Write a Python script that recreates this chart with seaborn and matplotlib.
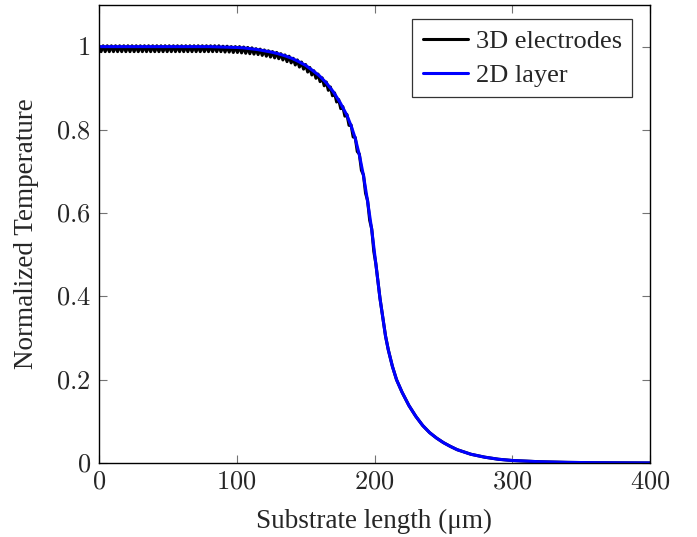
import numpy as np
import pandas as pd
import matplotlib
matplotlib.use("Agg")
import matplotlib.pyplot as plt
import seaborn as sns

# ---- data ----
x_2d = [0, 20, 40, 60, 80, 90, 100, 105, 110, 115, 120, 125, 130, 135, 140,
        145, 150, 155, 160, 165, 170, 175, 180, 183, 186, 189, 192, 195, 198,
        200, 202, 204, 206, 208, 210, 213, 216, 220, 225, 230, 235, 240, 245,
        250, 255, 260, 270, 280, 290, 300, 320, 340, 360, 380, 400]
y_2d = [1.000, 1.000, 1.000, 1.000, 1.000, 0.999, 0.998, 0.997, 0.995, 0.993,
        0.990, 0.987, 0.983, 0.978, 0.972, 0.964, 0.955, 0.943, 0.930, 0.913,
        0.892, 0.866, 0.835, 0.810, 0.780, 0.740, 0.690, 0.628, 0.560, 0.505,
        0.450, 0.395, 0.350, 0.305, 0.272, 0.232, 0.200, 0.170, 0.138, 0.112,
        0.090, 0.073, 0.060, 0.049, 0.040, 0.032, 0.021, 0.014, 0.009, 0.006,
        0.003, 0.0015, 0.0007, 0.0003, 0.0001]

x_3d = [0, 1.5, 3, 4.5, 6, 7.5, 9, 10.5, 12, 13.5, 15, 16.5, 18, 19.5, 21, 22.5,
        24, 25.5, 27, 28.5, 30, 31.5, 33, 34.5, 36, 37.5, 39, 40.5, 42, 43.5,
        45, 46.5, 48, 49.5, 51, 52.5, 54, 55.5, 57, 58.5, 60, 61.5, 63, 64.5,
        66, 67.5, 69, 70.5, 72, 73.5, 75, 76.5, 78, 79.5, 81, 82.5, 84, 85.5,
        87, 88.5, 90, 91.5, 93, 94.5, 96, 97.5, 99, 100.5, 102, 103.5, 105,
        106.5, 108, 109.5, 111, 112.5, 114, 115.5, 117, 118.5, 120, 121.5, 123,
        124.5, 126, 127.5, 129, 130.5, 132, 133.5, 135, 136.5, 138, 139.5, 141,
        142.5, 144, 145.5, 147, 148.5, 150, 151.5, 153, 154.5, 156, 157.5, 159,
        160.5, 162, 163.5, 165, 166.5, 168, 169.5, 171, 172.5, 174, 175.5, 177,
        178.5, 180, 181.5, 183, 184.5, 186, 187.5, 189, 190.5, 192, 193.5, 195,
        196.5, 198, 199.5, 201, 202, 204, 206, 208, 210, 213, 216, 220, 225,
        230, 235, 240, 245, 250, 255, 260, 270, 280, 290, 300, 320, 340, 360,
        380, 400]
y_3d = [1.002, 0.988, 1.002, 0.988, 1.002, 0.988, 1.002, 0.988, 1.002, 0.988,
        1.002, 0.988, 1.002, 0.988, 1.002, 0.988, 1.002, 0.988, 1.002, 0.988,
        1.002, 0.988, 1.002, 0.988, 1.002, 0.988, 1.002, 0.988, 1.002, 0.988,
        1.002, 0.988, 1.002, 0.988, 1.002, 0.988, 1.002, 0.988, 1.002, 0.988,
        1.002, 0.988, 1.002, 0.988, 1.002, 0.988, 1.002, 0.988, 1.002, 0.988,
        1.002, 0.988, 1.002, 0.988, 1.002, 0.988, 1.002, 0.988, 1.002, 0.988,
        1.001, 0.987, 1.001, 0.987, 1.000, 0.986, 1.000, 0.986, 1.000, 0.985,
        0.999, 0.984, 0.998, 0.983, 0.997, 0.982, 0.995, 0.981, 0.994, 0.979,
        0.992, 0.977, 0.990, 0.975, 0.988, 0.973, 0.986, 0.971, 0.983, 0.968,
        0.980, 0.964, 0.977, 0.961, 0.972, 0.956, 0.968, 0.951, 0.963, 0.946,
        0.957, 0.939, 0.950, 0.932, 0.942, 0.924, 0.934, 0.916, 0.925, 0.906,
        0.915, 0.895, 0.903, 0.882, 0.889, 0.867, 0.873, 0.851, 0.856, 0.833,
        0.837, 0.811, 0.812, 0.783, 0.782, 0.748, 0.742, 0.703, 0.692, 0.648,
        0.630, 0.583, 0.562, 0.508, 0.478, 0.450, 0.395, 0.350, 0.305, 0.272,
        0.232, 0.200, 0.170, 0.138, 0.112, 0.090, 0.073, 0.060, 0.049, 0.040,
        0.032, 0.021, 0.014, 0.009, 0.006, 0.003, 0.0015, 0.0007, 0.0003, 0.0001]

series_names = ["3D electrodes", "2D layer"]
series_colors = ["black", "#0000ff"]
x_ticks = [0, 100, 200, 300, 400]
y_ticks = [0, 0.2, 0.4, 0.6, 0.8, 1.0]
y_tick_labels = ["0", "0.2", "0.4", "0.6", "0.8", "1"]

df = pd.concat([
    pd.DataFrame({"x": x_3d, "y": y_3d, "series": series_names[0]}),
    pd.DataFrame({"x": x_2d, "y": y_2d, "series": series_names[1]}),
], ignore_index=True)

# ---- style ----
sns.set_theme(style="ticks")
plt.rcParams["font.family"] = ["Liberation Serif", "DejaVu Serif"]
plt.rcParams["mathtext.fontset"] = "cm"

fig = plt.figure(figsize=(6.97, 5.37), dpi=100)
ax = fig.add_axes([99 / 697, 74 / 537, 551 / 697, 458 / 537])

sns.lineplot(data=df, x="x", y="y", hue="series", hue_order=series_names,
             palette=dict(zip(series_names, series_colors)), estimator=None,
             sort=False, linewidth=2.2, ax=ax)

ax.set_xlim(0, 400)
ax.set_ylim(0, 1.1)
ax.set_xticks(x_ticks)
ax.set_xticklabels([f"${t}$" for t in x_ticks])
ax.set_yticks(y_ticks)
ax.set_yticklabels([f"${t}$" for t in y_tick_labels])
for lab in ax.get_xticklabels() + ax.get_yticklabels():
    lab.set_math_fontfamily("cm")
ax.tick_params(direction="in", length=6, width=0.8, color="0.45",
               top=True, right=True, labelsize=19, pad=6)
for s in ax.spines.values():
    s.set_color("black")
    s.set_linewidth(1.0)

ax.set_xlabel("Substrate length (μm)", fontsize=19.5, labelpad=11)
ax.set_ylabel("Normalized Temperature", fontsize=19.5, labelpad=12)

leg = ax.legend(loc="upper right", bbox_to_anchor=(0.968, 0.97),
                borderaxespad=0, fontsize=19, frameon=True, fancybox=False,
                handlelength=1.7, handletextpad=0.3, borderpad=0.4,
                labelspacing=0.4)
leg.get_frame().set_edgecolor("black")
leg.get_frame().set_linewidth(0.9)
for line in leg.get_lines():
    line.set_linewidth(2.2)

fig.savefig("out.png", dpi=100)
